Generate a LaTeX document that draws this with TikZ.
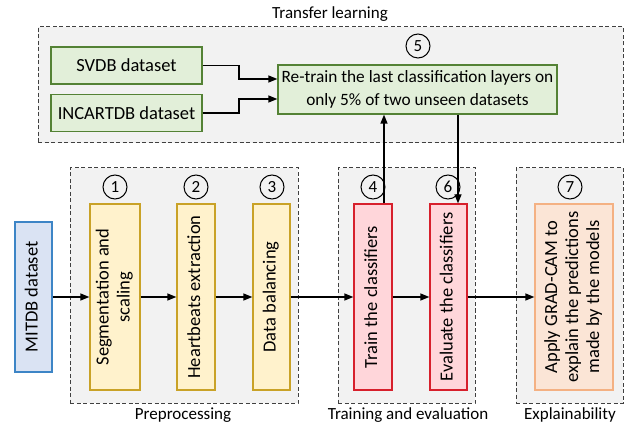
\documentclass[tikz,border=0pt]{standalone}
\usepackage{fontspec}
\setmainfont{Carlito}
\usetikzlibrary{arrows.meta,calc}
\definecolor{grbg}{HTML}{F2F2F2}
\definecolor{grline}{HTML}{404040}
\definecolor{gfill}{HTML}{E2EFD9}
\definecolor{gline}{HTML}{548235}
\definecolor{bfill}{HTML}{DAE3F3}
\definecolor{bline}{HTML}{3D85C6}
\definecolor{yfill}{HTML}{FFF2CC}
\definecolor{yline}{HTML}{C9A227}
\definecolor{rfill}{HTML}{FFD6DA}
\definecolor{rline}{HTML}{D7202C}
\definecolor{pfill}{HTML}{FBE5D6}
\definecolor{pline}{HTML}{F4B183}
\tikzset{
  grp/.style={draw=grline, fill=grbg, dash pattern=on 4pt off 2.5pt, line width=1pt, minimum height=235pt},
  bx/.style={draw, line width=1.3pt, inner sep=0pt, align=center, font=\fontsize{18.5}{23}\selectfont},
  num/.style={circle, draw=black, line width=1pt, minimum size=24pt, inner sep=0pt, font=\fontsize{17}{20}\selectfont},
  arr/.style={line width=1.3pt, -{Triangle[length=9pt,width=7pt]}},
  lbl/.style={inner sep=0pt, font=\fontsize{17}{20}\selectfont},
}
\newcommand{\rt}[1]{\rotatebox{90}{\fontsize{18.5}{21}\selectfont\begin{tabular}{@{}c@{}}#1\end{tabular}}}
\begin{document}
\begin{tikzpicture}[x=1pt,y=-1pt]
\useasboundingbox (0,0) rectangle (634,427);
% groups
\node[grp, minimum width=585pt, minimum height=116pt] (gtl) at (330.5,85) {};
\node[grp, minimum width=228pt] (gpre) at (184,285.5) {};
\node[grp, minimum width=137pt] (gtr) at (406.5,285.5) {};
\node[grp, minimum width=107pt] (gex) at (569.5,285.5) {};
\node[lbl] (ltl) at (330,14) {Transfer learning};
\node[lbl] (lpre) at (183,415) {Preprocessing};
\node[lbl] (ltr) at (408,415) {Training and evaluation};
\node[lbl] (lex) at (570,415) {Explainability};
% top boxes
\node[bx, draw=gline, fill=gfill, minimum width=151pt, minimum height=37pt] (svdb) at (126.5,65.5) {SVDB dataset};
\node[bx, draw=gline, fill=gfill, minimum width=151pt, minimum height=37pt] (inc) at (126.5,113) {INCARTDB dataset};
\node[bx, draw=gline, fill=gfill, minimum width=279pt, minimum height=49pt, font=\fontsize{17.3}{23}\selectfont] (rt) at (417.5,89.5) {Re-train the last classification layers on\\only 5\% of two unseen datasets};
% bottom boxes
\node[bx, draw=bline, fill=bfill, minimum width=37pt, minimum height=150pt] (mit) at (33.5,297) {\rt{MITDB dataset}};
\node[bx, draw=yline, fill=yfill, minimum width=50pt, minimum height=186pt] (b1) at (115,297) {\rt{Segmentation and\\scaling}};
\node[bx, draw=yline, fill=yfill, minimum width=38pt, minimum height=186pt] (b2) at (196,297) {\rt{Heartbeats extraction}};
\node[bx, draw=yline, fill=yfill, minimum width=37pt, minimum height=186pt] (b3) at (271.5,297) {\rt{Data balancing}};
\node[bx, draw=rline, fill=rfill, minimum width=38pt, minimum height=186pt] (b4) at (373,297) {\rt{Train the classifiers}};
\node[bx, draw=rline, fill=rfill, minimum width=37pt, minimum height=186pt] (b6) at (448.5,297) {\rt{Evaluate the classifiers}};
\node[bx, draw=pline, fill=pfill, minimum width=78pt, minimum height=186pt] (b7) at (574,297) {\rt{Apply GRAD-CAM to\\explain the predictions\\made by the models}};
% numbers
\node[num] (c1) at (115,187) {1};
\node[num] (c2) at (196,187) {2};
\node[num] (c3) at (272,187) {3};
\node[num] (c4) at (373,187) {4};
\node[num] (c6) at (448,187) {6};
\node[num] (c7) at (570,187) {7};
\node[num] (c5) at (418,46) {5};
% connectors
\coordinate (jx) at (239,0);
\coordinate (ux) at (384,0);
\coordinate (dx) at (458,0);
\coordinate (in1) at ($(rt.west)+(0,-10.5)$);
\coordinate (in2) at ($(rt.west)+(0,9.5)$);
\draw[arr] (svdb.east) -- (svdb.east -| jx) |- (in1);
\draw[arr] (inc.east) -- (inc.east -| jx) |- (in2);
\draw[arr] (b4.north -| ux) -- (rt.south -| ux);
\draw[arr] (rt.south -| dx) -- (b6.north -| dx);
\draw[arr] (mit) -- (b1);
\draw[arr] (b1) -- (b2);
\draw[arr] (b2) -- (b3);
\draw[arr] (b3) -- (b4);
\draw[arr] (b4) -- (b6);
\draw[arr] (b6) -- (b7);
\end{tikzpicture}
\end{document}
